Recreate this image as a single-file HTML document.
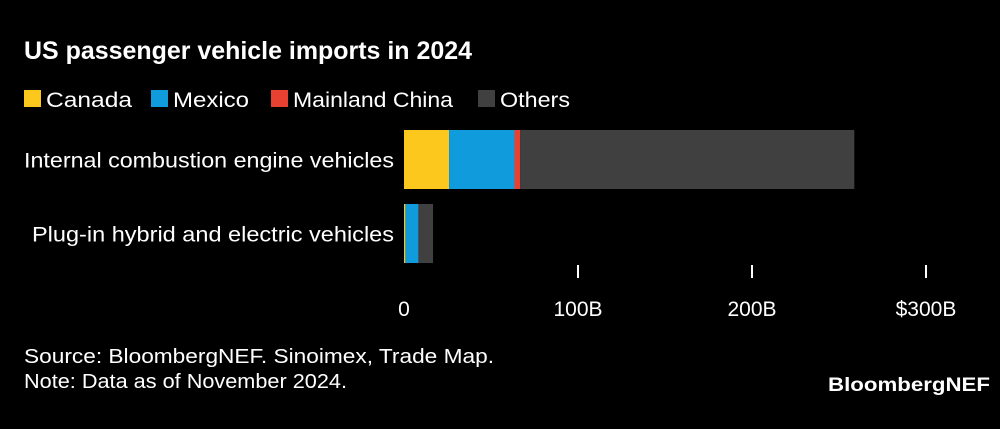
<!DOCTYPE html>
<html><head><meta charset="utf-8"><style>
body{margin:0;background:#000;width:1000px;height:429px;overflow:hidden;font-family:"Liberation Sans",Arial,sans-serif;color:#fff}
</style></head><body>
<svg width="1000" height="429" id="c" style="position:absolute;left:0;top:0">
<text x="24" y="59" font-size="25" font-weight="bold" fill="#fff" textLength="448" lengthAdjust="spacingAndGlyphs">US passenger vehicle imports in 2024</text>
<g id="legend"></g>
<g id="bars"></g>
<g id="axis"></g>
<text x="24" y="363" font-size="20" fill="#fff" textLength="470" lengthAdjust="spacingAndGlyphs">Source: BloombergNEF. Sinoimex, Trade Map.</text>
<text x="24" y="388" font-size="20" fill="#fff" textLength="323" lengthAdjust="spacingAndGlyphs">Note: Data as of November 2024.</text>
<text x="828" y="391" font-size="19" font-weight="bold" fill="#fff" textLength="162" lengthAdjust="spacingAndGlyphs">BloombergNEF</text>
</svg>
<script>
const categories=["Internal combustion engine vehicles","Plug-in hybrid and electric vehicles"];
const seriesNames=["Canada","Mexico","Mainland China","Others"];
const seriesColors=["#fdc81e","#0f9bdc","#e84132","#404040"];
const canada=[25.9,0.8];
const mexico=[37.6,7.5];
const china=[3.3,0.1];
const others=[192,8.3];
const tickValues=[0,100,200,300];
const tickLabels=["0","100B","200B","$300B"];
const NS="http://www.w3.org/2000/svg";
const x0=404,scale=1.74;
const xs=v=>x0+v*scale;
const rowY=[130,204],barH=59;
function mk(t,a,p){const e=document.createElementNS(NS,t);for(const k in a)e.setAttribute(k,a[k]);p.appendChild(e);return e;}
const L=document.getElementById('legend');
const legX=[24,151,271,478];
const legW=[86,76,160,70];
seriesNames.forEach((n,i)=>{
 const g=mk('g',{},L);
 
 
 mk('rect',{x:legX[i],y:90,width:17,height:17,fill:seriesColors[i]},g);
 const t=mk('text',{x:legX[i]+22,y:107,'font-size':21,fill:'#fff',textLength:legW[i],lengthAdjust:'spacingAndGlyphs'},g);t.textContent=n;
});
const B=document.getElementById('bars');
const series=[canada,mexico,china,others];
const catW=[370,362];
categories.forEach((c,r)=>{
 const t=mk('text',{x:394-catW[r],y:rowY[r]+barH/2+8,'font-size':21,fill:'#fff',textLength:catW[r],lengthAdjust:'spacingAndGlyphs'},B);
 
 
 t.textContent=c;
 let acc=0;
 series.forEach((s,i)=>{
  const rc=mk('rect',{x:xs(acc),y:rowY[r],width:Math.max(s[r]*scale,0),height:barH,fill:seriesColors[i]},B);
  
  
  acc+=s[r];
 });
});
const A=document.getElementById('axis');
tickValues.forEach((v,i)=>{
 if(v>0){const l=mk('line',{x1:xs(v),x2:xs(v),y1:265,y2:278,stroke:'#fff','stroke-width':2},A);
 }
 const t=mk('text',{x:xs(v),y:316,'font-size':21,fill:'#fff','text-anchor':'middle'},A);
 
 
 t.textContent=tickLabels[i];
});
</script>
</body></html>
